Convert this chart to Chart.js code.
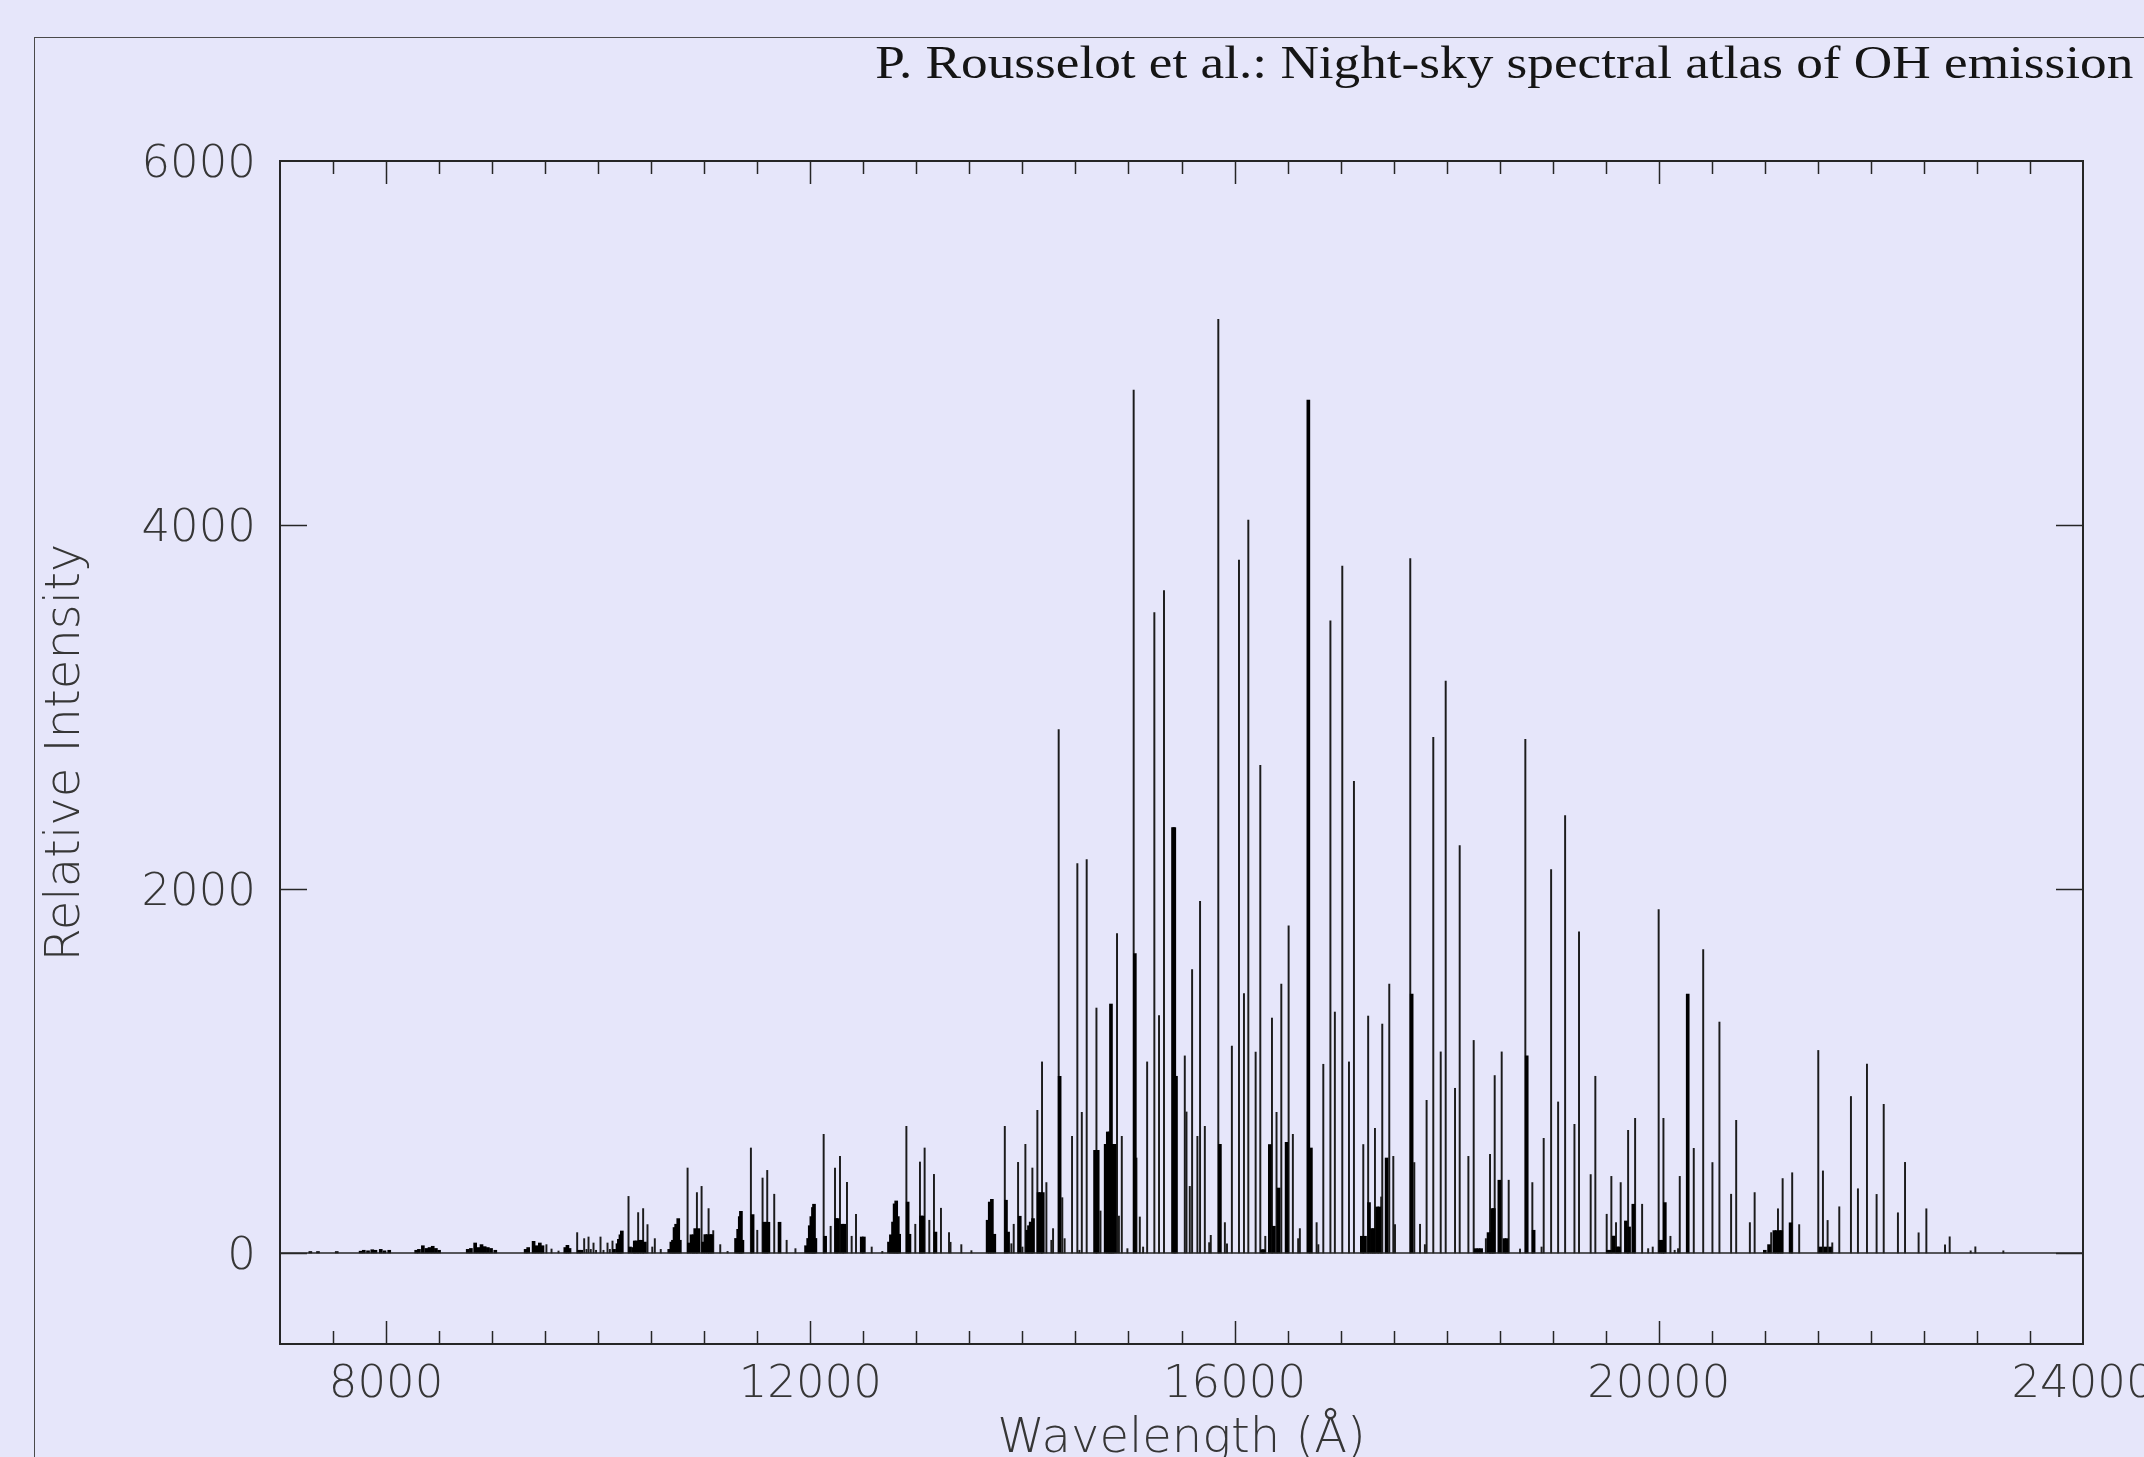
<!DOCTYPE html>
<html>
<head>
<meta charset="utf-8">
<title>Night-sky spectral atlas of OH emission</title>
<script src="https://cdn.jsdelivr.net/npm/chart.js@4.4.1/dist/chart.umd.min.js"></script>
<style>
  html, body { margin: 0; padding: 0; background: #e6e6fa; overflow: hidden; }
  body { width: 2144px; height: 1457px; position: relative; }
  #frame { position: absolute; left: 34px; top: 37px; width: 2200px; height: 1500px;
           border: 1.5px solid #4a4a4a; box-sizing: border-box; }
  #title { position: absolute; right: 11px; top: 40px; font-family: "Liberation Serif", serif;
           font-size: 46px; line-height: 46px; color: #151515; white-space: nowrap;
           transform-origin: right center; }
  #c { position: absolute; left: 0; top: 0; }
</style>
</head>
<body>
<div id="frame"></div>
<div id="title">P. Rousselot et al.: Night-sky spectral atlas of OH emission</div>
<canvas id="c" width="2144" height="1457"></canvas>
<script>
// ---- data: resolved lines (wavelength in Å, relative intensity)
const lineWave = [9512,9560,9626,9802,9868,9890,9909,9930,9956,9980,10022,10050,10088,10110,10135,10286,10377,10424,10465,10510,10534,10590,10843,10931,10975,11041,11085,11151,11220,11440,11500,11550,11594,11660,11777,11860,12126,12192,12233,12280,12346,12390,12431,12579,12679,12906,12990,13034,13078,13122,13166,13232,13308,13322,13424,13519,13834,13896,13918,13959,14000,14028,14094,14141,14185,14226,14273,14289,14342,14376,14398,14468,14518,14537,14560,14606,14698,14736,14892,14910,14937,14990,15049,15075,15107,15138,15176,15244,15288,15335,15531,15547,15578,15600,15650,15675,15720,15761,15776,15847,15909,15929,15975,16042,16089,16130,16199,16243,16290,16353,16396,16441,16510,16550,16600,16616,16774,16790,16837,16904,16946,17016,17079,17126,17214,17260,17324,17383,17393,17459,17497,17513,17657,17695,17749,17795,17811,17874,17944,17991,18079,18123,18205,18255,18370,18409,18453,18519,18585,18692,18742,18808,18895,18915,18985,19051,19117,19205,19248,19358,19402,19509,19553,19597,19641,19711,19777,19843,19900,19943,19999,20044,20110,20150,20182,20198,20330,20419,20506,20572,20682,20730,20859,20904,21060,21124,21168,21258,21324,21504,21548,21592,21636,21702,21812,21878,21963,22054,22121,22255,22322,22450,22523,22699,22743,22941,22985,23249];
const lineFlux = [46,22,11,112,79,20,88,20,55,15,88,15,55,20,66,311,222,244,156,33,79,20,467,332,366,244,123,46,9,577,125,412,454,323,70,24,652,147,467,531,388,92,213,33,9,696,158,500,577,180,432,246,112,59,46,13,696,51,158,498,33,597,467,784,1050,387,70,134,2876,304,79,641,2139,15,773,2161,1346,231,1755,203,641,24,4742,522,198,33,1050,3519,1304,3640,1083,775,366,1557,641,1932,696,57,97,5130,167,51,1137,3807,1425,4027,1104,2680,92,1291,773,1478,1797,652,79,134,167,46,1037,3473,1324,3774,1050,2592,596,1302,685,308,1258,1478,531,156,3816,497,158,46,839,2834,1105,3142,905,2238,531,1168,79,542,975,1105,400,22,2823,387,33,630,2107,830,2403,707,1764,431,971,213,421,167,387,674,740,268,24,33,1887,740,92,15,24,421,575,1667,497,1269,323,729,167,332,112,243,409,441,156,1113,451,179,56,254,860,353,1038,322,817,221,498,111,243,45,89,12,34,12];

// ---- data: unresolved blends (drawn as wider bins)
const blendWave = [7286,7358,7535,7760,7790,7830,7870,7900,7950,7985,8030,8284,8310,8347,8380,8410,8440,8470,8500,8770,8800,8840,8870,8900,8930,8960,8990,9030,9316,9340,9391,9420,9450,9475,9690,9710,9730,9820,9840,10150,10182,10195,10210,10223,10300,10330,10345,10360,10390,10410,10440,10670,10690,10705,10720,10735,10755,10770,10855,10880,10900,10915,10945,10990,11010,11030,11055,11070,11300,11320,11335,11346,11360,11456,11565,11580,11605,11710,11960,11980,11995,12010,12025,12035,12048,12140,12245,12260,12300,12320,12485,12505,12742,12760,12780,12795,12810,12825,12838,12918,12935,13045,13062,13180,13672,13692,13712,13735,13845,13865,13975,14045,14062,14078,14100,14152,14170,14192,14351,14685,14710,14785,14805,14822,14835,14850,14870,15060,15420,15432,15448,15862,16260,16275,16333,16371,16415,16491,16696,16720,17200,17230,17268,17295,17310,17345,17365,17434,17670,18275,18300,18325,18395,18420,18430,18445,18497,18545,18565,18755,18820,19520,19540,19575,19610,19625,19690,19720,19760,20015,20035,20057,20273,21000,21040,21090,21110,21140,21155,21243,21525,21570,21615];
const blendFlux = [8,8,8,10,15,12,18,15,20,12,15,15,20,40,25,30,37,25,15,20,25,55,30,46,35,30,25,15,20,30,64,40,55,40,30,42,25,15,15,20,51,75,100,121,33,30,66,66,70,70,60,20,60,70,140,158,189,70,55,100,100,134,134,60,101,101,101,101,80,130,200,229,70,211,169,169,169,169,40,80,150,200,250,268,80,92,189,189,158,158,88,88,60,100,170,270,286,200,103,280,103,203,203,115,180,280,295,103,290,115,202,125,150,170,189,332,332,332,971,564,564,597,665,665,1368,597,597,1645,2337,2337,971,597,18,18,596,147,357,608,4687,577,92,92,277,134,134,253,253,522,1423,24,24,24,112,112,244,244,400,79,79,1083,125,15,15,93,33,33,176,143,268,70,70,277,1423,15,46,123,123,123,123,166,33,33,33];

// ---- axes
const xTickValues = [8000, 12000, 16000, 20000, 24000];
const yTickValues = [0, 2000, 4000, 6000];
const xRange = [7000, 24000];
const yRange = [-500, 6000];
const xMinorStep = 500;

const toPoints = (w, f) => w.map((v, i) => ({ x: v, y: f[i] }));

const textColor = '#363636';
const tickFont = { family: "'DejaVu Sans', sans-serif", size: 45, weight: 200 };
const titleFont = { family: "'DejaVu Sans', sans-serif", size: 48, weight: 200 };

const framePlugin = {
  id: 'framePlugin',
  afterDatasetsDraw(chart) {
    const { ctx, chartArea: a, scales: { x, y } } = chart;
    const line = (x1, y1, x2, y2) => { ctx.beginPath(); ctx.moveTo(x1, y1); ctx.lineTo(x2, y2); ctx.stroke(); };
    ctx.save();
    ctx.strokeStyle = '#262626';
    ctx.lineWidth = 1.5;
    const y0 = y.getPixelForValue(0);
    line(a.left, y0, a.right, y0);
    ctx.lineWidth = 2;
    ctx.strokeRect(a.left, a.top, a.right - a.left, a.bottom - a.top);
    ctx.lineWidth = 1.5;
    for (let v = x.min + xMinorStep; v < x.max; v += xMinorStep) {
      const px = Math.round(x.getPixelForValue(v)) + 0.5;
      const len = xTickValues.includes(v) ? 23 : 13;
      line(px, a.bottom, px, a.bottom - len);
      line(px, a.top, px, a.top + len);
    }
    for (const v of yTickValues) {
      if (v <= y.min || v >= y.max) continue;
      const py = Math.round(y.getPixelForValue(v)) + 0.5;
      line(a.left, py, a.left + 27, py);
      line(a.right, py, a.right - 27, py);
    }
    ctx.restore();
  }
};

new Chart(document.getElementById('c'), {
  type: 'bar',
  data: {
    datasets: [
      { label: 'blends', data: toPoints(blendWave, blendFlux), backgroundColor: '#000',
        borderWidth: 0, barThickness: 3, grouped: false },
      { label: 'lines', data: toPoints(lineWave, lineFlux), backgroundColor: '#1c1c1c',
        borderWidth: 0, barThickness: 1.3, grouped: false }
    ]
  },
  options: {
    responsive: false,
    animation: false,
    devicePixelRatio: 1,
    layout: { padding: { top: 161, right: 61, bottom: 0, left: 36 } },
    plugins: { legend: { display: false }, tooltip: { enabled: false }, title: { display: false } },
    scales: {
      x: {
        type: 'linear', min: xRange[0], max: xRange[1], offset: false,
        grid: { display: false, drawTicks: false, offset: false },
        border: { display: false },
        afterBuildTicks: s => { s.ticks = xTickValues.map(v => ({ value: v })); },
        afterFit: s => { s.height = 113; s.paddingLeft = 0; s.paddingRight = 0; },
        ticks: { padding: 14, color: textColor, font: tickFont, maxRotation: 0, autoSkip: false,
                 callback: v => String(v) },
        title: { display: true, text: 'Wavelength (Å)', color: textColor, font: titleFont,
                 padding: { top: 0, bottom: -11 } }
      },
      y: {
        type: 'linear', min: yRange[0], max: yRange[1],
        grid: { display: false, drawTicks: false },
        border: { display: false },
        afterBuildTicks: s => { s.ticks = yTickValues.map(v => ({ value: v })); },
        afterFit: s => { s.width = 244; s.paddingTop = 0; s.paddingBottom = 0; },
        ticks: { padding: 24, labelOffset: 4, color: textColor, font: tickFont, autoSkip: false,
                 callback: v => String(v) },
        title: { display: true, text: 'Relative Intensity', color: textColor, font: titleFont,
                 padding: { top: 2, bottom: 0 } }
      }
    }
  },
  plugins: [framePlugin]
});

// stretch the serif header horizontally to the width it has in the original figure
(function () {
  const el = document.getElementById('title');
  const w = el.getBoundingClientRect().width;
  if (w > 0) el.style.transform = 'scaleX(' + (1258 / w).toFixed(4) + ')';
})();
</script>
</body>
</html>
